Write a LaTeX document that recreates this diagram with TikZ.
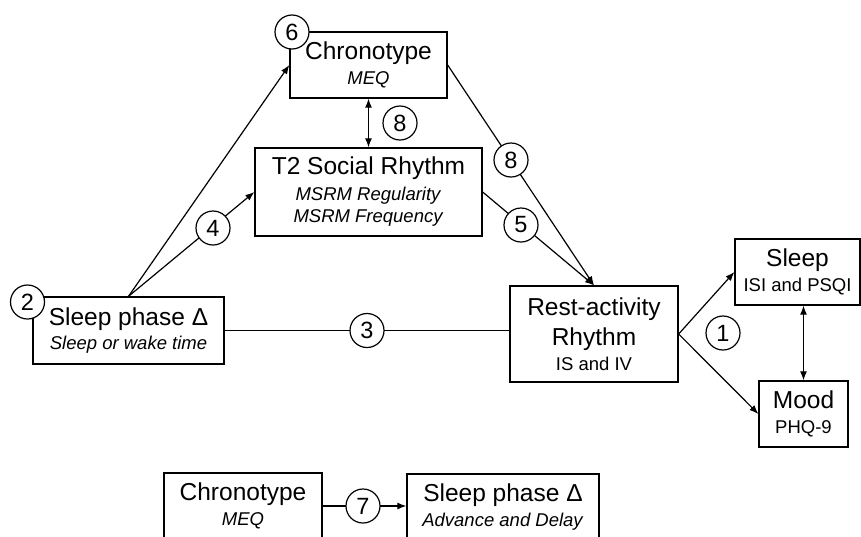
\documentclass[tikz,border=0pt]{standalone}
\usepackage{fontspec}
\setmainfont{Liberation Sans}
\usetikzlibrary{arrows.meta}
\newcommand\mainfs{\fontsize{24.5}{24}\selectfont}
\newcommand\subfs{\fontsize{18.5}{25.5}\selectfont}
\newcommand\numfs{\fontsize{23.5}{23.5}\selectfont}
\begin{document}
\begin{tikzpicture}[x=1pt,y=-1pt,
  box/.style={draw, line width=1.3pt, inner sep=0pt, align=center, font=\subfs},
  num/.style={circle, draw, fill=white, line width=1.2pt, minimum size=34pt, inner sep=0pt, font=\numfs},
  link/.style={line width=1.2pt},
  arr/.style={link, -{Latex[length=9pt,width=7pt]}},
  darr/.style={link, {Latex[length=9pt,width=7pt]}-{Latex[length=9pt,width=7pt]}}]
\useasboundingbox (0,0) rectangle (861,536);
\clip (0,0) rectangle (861,536);
% boxes
\node[box, minimum width=157pt, minimum height=66pt] (chrono) at (368.5,65) {{\mainfs Chronotype}\\\textit{MEQ}};
\node[box, minimum width=227pt, minimum height=88pt] (t2) at (368.5,192) {{\mainfs T2 Social Rhythm}\\\textit{MSRM Regularity}\\[-3pt]\textit{MSRM Frequency}};
\node[box, minimum width=191pt, minimum height=67pt] (sp) at (128.5,330.5) {{\mainfs Sleep phase Δ}\\[-1pt]\textit{Sleep or wake time}};
\node[box, minimum width=168pt, minimum height=96pt] (rest) at (594,334) {{\mainfs Rest-activity}\\[4.5pt]{\mainfs Rhythm}\\[-1pt]IS and IV};
\node[box, minimum width=125pt, minimum height=66pt] (sleep) at (797.5,272) {{\mainfs Sleep}\\[-1pt]ISI and PSQI};
\node[box, minimum width=89pt, minimum height=66pt] (mood) at (803.5,414) {{\mainfs Mood}\\[-1pt]PHQ-9};
\node[box, minimum width=158pt, minimum height=66pt] (chronob) at (243,506) {{\mainfs Chronotype}\\\textit{MEQ}};
\node[box, minimum width=192pt, minimum height=66pt] (spb) at (503,507) {{\mainfs Sleep phase Δ}\\[-1pt]\textit{Advance and Delay}};
% connectors
\draw[arr] (sp.north) -- (chrono.west);
\draw[arr] (sp.north) -- (t2.west);
\draw[link] (sp.east) -- (sp.east -| rest.west);
\draw[arr] (chrono.east) -- (rest.north);
\draw[arr] (t2.east) -- (rest.north);
\draw[arr] (rest.east) -- (sleep.west);
\draw[arr] (rest.east) -- (mood.west);
\draw[darr] (chrono.south) -- (t2.north);
\draw[darr] (mood.north |- sleep.south) -- (mood.north);
\draw[arr] (chronob.east) -- (chronob.east -| spb.west);
% numbered circles
\node[num] (n6) at (292,32) {6};
\node[num] (n8a) at (400,123) {8};
\node[num] (n4) at (213,228) {4};
\node[num] (n2) at (27.5,302) {2};
\node[num] (n3) at (367,330.5) {3};
\node[num] (n8b) at (511,160) {8};
\node[num] (n5) at (521,225) {5};
\node[num] (n1) at (723,333) {1};
\node[num] (n7) at (363,506) {7};
\end{tikzpicture}
\end{document}
